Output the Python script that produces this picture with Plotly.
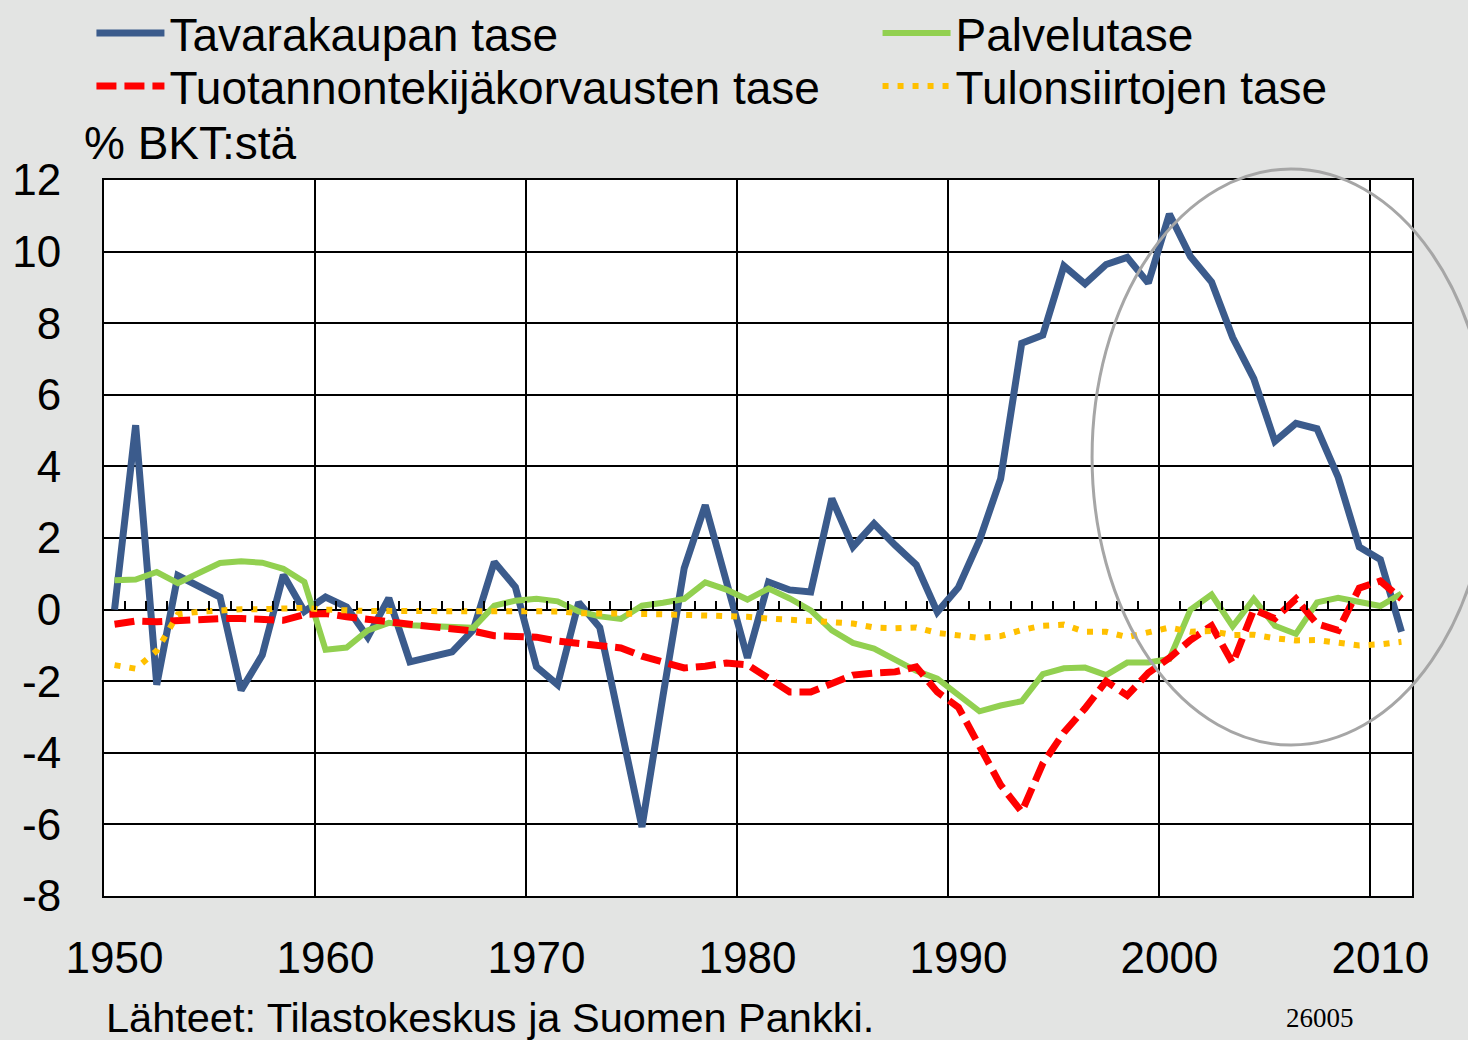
import plotly.graph_objects as go

BLUE = "#3B5B8C"
GREEN = "#92D050"
RED = "#FF0000"
YELLOW = "#FFC000"
BG = "#E3E4E3"
FONT = "Liberation Sans"

years = list(range(1950, 2012))

tavarat = [
    0.0, 5.15, -2.1, 0.95, 0.65, 0.35, -2.25, -1.27, 0.97, -0.05,
    0.35, 0.07, -0.77, 0.32, -1.46, -1.32, -1.18, -0.57, 1.33, 0.63,
    -1.6, -2.1, 0.2, -0.5, -3.3, -6.07, -2.4, 1.15, 2.92, 0.8,
    -1.35, 0.77, 0.55, 0.49, 3.1, 1.75, 2.4, 1.8, 1.25, -0.07,
    0.62, 1.94, 3.65, 7.44, 7.67, 9.6, 9.1, 9.64, 9.84, 9.12,
    11.05, 9.86, 9.15, 7.6, 6.45, 4.7, 5.2, 5.05, 3.7, 1.75,
    1.4, -0.62,
]
palvelut = [
    0.82, 0.84, 1.05, 0.74, 1.02, 1.3, 1.35, 1.31, 1.14, 0.77,
    -1.12, -1.06, -0.58, -0.37, -0.44, -0.46, -0.5, -0.51, 0.11, 0.25,
    0.3, 0.23, -0.05, -0.19, -0.26, 0.11, 0.19, 0.3, 0.76, 0.56,
    0.28, 0.59, 0.31, -0.02, -0.58, -0.93, -1.09, -1.41, -1.71, -1.93,
    -2.4, -2.84, -2.68, -2.56, -1.8, -1.64, -1.62, -1.83, -1.48, -1.48,
    -1.38, 0.0, 0.42, -0.47, 0.3, -0.45, -0.68, 0.2, 0.33, 0.22,
    0.1, 0.45,
]
tuotannontekijat = [
    -0.41, -0.32, -0.34, -0.3, -0.25, -0.25, -0.25, -0.28, -0.3, -0.14,
    -0.11, -0.2, -0.25, -0.34, -0.41, -0.47, -0.54, -0.6, -0.73, -0.77,
    -0.77, -0.88, -0.95, -0.98, -1.07, -1.3, -1.49, -1.63, -1.58, -1.49,
    -1.54, -1.93, -2.3, -2.3, -2.07, -1.83, -1.77, -1.74, -1.6, -2.3,
    -2.73, -3.8, -4.9, -5.65, -4.3, -3.43, -2.76, -2.0, -2.4, -1.77,
    -1.35, -0.85, -0.45, -1.5, 0.0, -0.25, 0.3, -0.4, -0.58, 0.6,
    0.8, 0.3,
]
tulonsiirrot = [
    -1.55, -1.65, -1.15, -0.13, -0.06, -0.02, 0.01, 0.01, 0.01, 0.05,
    0.0, -0.04, -0.04, -0.04, -0.04, -0.02, -0.02, -0.03, -0.05, -0.05,
    -0.02, -0.05, -0.1, -0.12, -0.12, -0.12, -0.13, -0.14, -0.15, -0.18,
    -0.2, -0.25, -0.27, -0.31, -0.35, -0.39, -0.5, -0.52, -0.5, -0.65,
    -0.71, -0.79, -0.74, -0.57, -0.45, -0.42, -0.62, -0.62, -0.77, -0.63,
    -0.5, -0.62, -0.6, -0.71, -0.7, -0.8, -0.86, -0.85, -0.93, -1.0,
    -0.97, -0.9,
]

label_years = [1950, 1960, 1970, 1980, 1990, 2000, 2010]
grid_years = [1959.5, 1969.5, 1979.5, 1989.5, 1999.5, 2009.5]
y_ticks = [-8, -6, -4, -2, 0, 2, 4, 6, 8, 10, 12]

fig = go.Figure()
fig.add_trace(go.Scatter(x=years, y=tavarat, mode="lines", name="Tavarakaupan tase",
                         line=dict(color=BLUE, width=7), legend="legend", showlegend=True))
fig.add_trace(go.Scatter(x=years, y=palvelut, mode="lines", name="Palvelutase",
                         line=dict(color=GREEN, width=6), legend="legend2", showlegend=True))
fig.add_trace(go.Scatter(x=years, y=tuotannontekijat, mode="lines",
                         name="Tuotannontekijäkorvausten tase",
                         line=dict(color=RED, width=7, dash="20px,8px"), legend="legend3",
                         showlegend=True))
fig.add_trace(go.Scatter(x=years, y=tulonsiirrot, mode="lines", name="Tulonsiirtojen tase",
                         line=dict(color=YELLOW, width=6, dash="6px,9px"), legend="legend4",
                         showlegend=True))

# year ticks along the zero line
fig.add_trace(go.Scatter(x=[], y=[], xaxis="x2", showlegend=False))

legend_style = dict(xanchor="left", yanchor="middle", bgcolor="rgba(0,0,0,0)",
                    font=dict(size=46), itemwidth=68, visible=True)

fig.update_layout(
    width=1468,
    height=1040,
    showlegend=True,
    paper_bgcolor=BG,
    plot_bgcolor="white",
    margin=dict(l=104, r=56, t=180, b=144, autoexpand=False),
    font=dict(family=FONT, size=44, color="black"),
    xaxis=dict(
        range=[1949.5, 2011.5],
        tickvals=label_years,
        ticktext=[str(y) for y in label_years],
        ticks="",
        ticklabelstandoff=22,
        showgrid=False,
        zeroline=False,
        showline=True, mirror=True, linecolor="black", linewidth=2,
        minor=dict(tickvals=grid_years, showgrid=True, gridcolor="black", gridwidth=2, ticks=""),
    ),
    xaxis2=dict(
        range=[1949.5, 2011.5],
        overlaying="x",
        anchor="free",
        position=0.4,
        side="bottom",
        tickvals=[y + 0.5 for y in years[:-1]],
        ticks="inside", ticklen=9, tickwidth=2, tickcolor="black",
        showticklabels=False, showgrid=False, zeroline=False, showline=False,
    ),
    yaxis=dict(
        range=[-8, 12],
        tickvals=y_ticks,
        ticktext=[str(v) for v in y_ticks],
        ticks="",
        ticklabelstandoff=32,
        showgrid=True, gridcolor="black", gridwidth=2,
        zeroline=False,
        showline=True, mirror=True, linecolor="black", linewidth=2,
    ),
    legend=dict(x=-0.0096, y=1.2053, **legend_style),
    legend2=dict(x=0.5914, y=1.2053, **legend_style),
    legend3=dict(x=-0.0096, y=1.1313, **legend_style),
    legend4=dict(x=0.5914, y=1.1313, **legend_style),
    shapes=[
        dict(type="circle", xref="paper", yref="paper",
             x0=0.7554, x1=1.0596, y0=0.2109, y1=1.0154,
             line=dict(color="#A6A6A6", width=3), layer="above"),
    ],
    annotations=[
        dict(text="% BKT:stä", xref="paper", yref="paper", x=-0.0166, y=1.052,
             xanchor="left", yanchor="middle", showarrow=False, font=dict(size=46)),
        dict(text="Lähteet: Tilastokeskus ja Suomen Pankki.", xref="paper", yref="paper",
             x=0.0, y=-0.17, xanchor="left", yanchor="middle", showarrow=False,
             font=dict(size=41.5)),
        dict(text="26005", xref="paper", yref="paper", x=0.93, y=-0.17,
             xanchor="center", yanchor="middle", showarrow=False,
             font=dict(family="Liberation Serif", size=27)),
    ],
)

fig.write_html("out.html", config={"displayModeBar": False},
               post_script="document.body.style.margin='0px';")
